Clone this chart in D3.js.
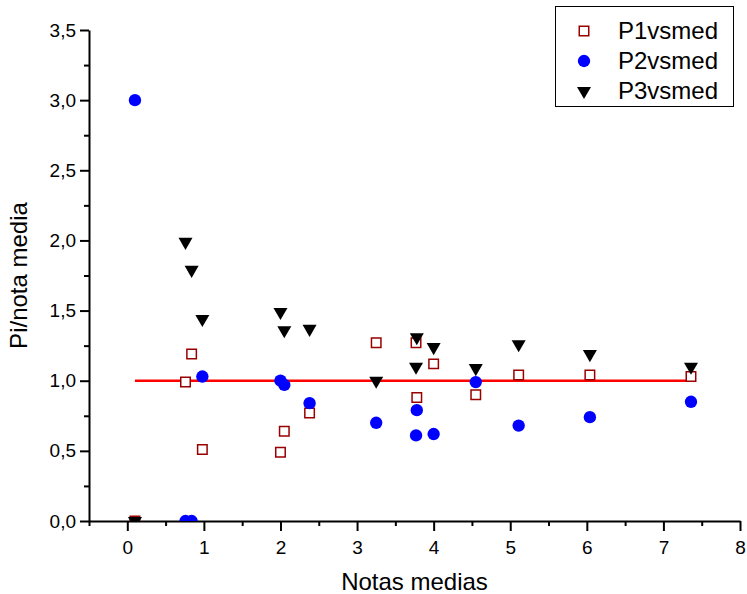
<!DOCTYPE html>
<html>
<head>
<meta charset="utf-8">
<script src="https://cdn.jsdelivr.net/npm/d3@7"></script>
<style>
  body { margin: 0; background: #fff; }
  svg { font-family: "Liberation Sans", Arial, sans-serif; }
  .axis path, .axis line { stroke: #000; stroke-width: 2; }
  .axis text { font-size: 19px; fill: #000; }
</style>
</head>
<body>
<div id="chart"></div>
<script>
// Notas medias (x) shared by the three series
const notas = [0.1, 0.76, 0.84, 0.98, 2.0, 2.05, 2.38, 3.25, 3.77, 3.78, 4.0, 4.55, 5.11, 6.04, 7.36];
const p1vsmed = [0, 0.99, 1.19, 0.51, 0.49, 0.64, 0.77, 1.27, 1.27, 0.88, 1.12, 0.90, 1.04, 1.04, 1.03];
const p2vsmed = [3.0, 0, 0, 1.03, 1.0, 0.97, 0.84, 0.70, 0.61, 0.79, 0.62, 0.99, 0.68, 0.74, 0.85];
const p3vsmed = [0, 1.99, 1.79, 1.44, 1.49, 1.36, 1.37, 1.0, 1.10, 1.31, 1.24, 1.09, 1.26, 1.19, 1.10];
const seriesNames = ['P1vsmed', 'P2vsmed', 'P3vsmed'];
const refLevel = 1;
const xTicks = [0, 1, 2, 3, 4, 5, 6, 7, 8];
const yTicks = [0, 0.5, 1, 1.5, 2, 2.5, 3, 3.5];

const width = 747;
const height = 594;

const svg = d3.select('#chart').append('svg')
  .attr('width', width)
  .attr('height', height);

const x = d3.scaleLinear().domain([-0.5, 8]).range([89, 740]);
const y = d3.scaleLinear().domain([0, 3.5]).range([521, 30]);

const es = d3.formatLocale({ decimal: ',', thousands: '.', grouping: [3], currency: ['', '€'] });
const fmt = es.format('.1f');

// clip markers at the x axis like the original
svg.append('clipPath').attr('id', 'plotClip')
  .append('rect')
  .attr('x', x.range()[0]).attr('y', 0)
  .attr('width', x.range()[1] - x.range()[0])
  .attr('height', y.range()[0]);

// minor ticks
const xMinor = d3.range(-0.5, 8, 1);
const yMinor = d3.range(0.25, 3.5, 0.5);

svg.append('g')
  .attr('class', 'axis')
  .attr('transform', `translate(0,${y.range()[0]})`)
  .call(d3.axisBottom(x).tickValues(xMinor).tickSize(5).tickFormat(''))
  .call((g) => g.select('.domain').remove());

svg.append('g')
  .attr('class', 'axis')
  .attr('transform', `translate(${x.range()[0]},0)`)
  .call(d3.axisLeft(y).tickValues(yMinor).tickSize(5).tickFormat(''))
  .call((g) => g.select('.domain').remove());

// major axes
svg.append('g')
  .attr('class', 'axis x-axis')
  .attr('transform', `translate(0,${y.range()[0]})`)
  .call(d3.axisBottom(x).tickValues(xTicks).tickSize(10).tickSizeOuter(0).tickPadding(10).tickFormat(d3.format('d')));

svg.append('g')
  .attr('class', 'axis y-axis')
  .attr('transform', `translate(${x.range()[0]},0)`)
  .call(d3.axisLeft(y).tickValues(yTicks).tickSize(9).tickSizeOuter(0).tickPadding(4).tickFormat(fmt));

// axis titles
svg.append('text')
  .attr('x', (x.range()[0] + x.range()[1]) / 2)
  .attr('y', 590)
  .attr('text-anchor', 'middle')
  .style('font-size', '24px')
  .text('Notas medias');

svg.append('text')
  .attr('transform', `translate(27,${(y.range()[0] + y.range()[1]) / 2}) rotate(-90)`)
  .attr('text-anchor', 'middle')
  .style('font-size', '24px')
  .text('Pi/nota media');

const plot = svg.append('g').attr('clip-path', 'url(#plotClip)');

// reference line at 1
const ext = d3.extent(notas);
plot.append('line')
  .attr('x1', x(ext[0])).attr('x2', x(ext[1]))
  .attr('y1', y(refLevel)).attr('y2', y(refLevel))
  .attr('stroke', '#ff0000')
  .attr('stroke-width', 2.5);

const sq = d3.symbol().type(d3.symbolSquare).size(90);
const circ = d3.symbol().type(d3.symbolCircle).size(120);
const tri = d3.symbol().type(d3.symbolTriangle).size(85);

const styles = [
  { sym: sq, fill: '#fff', stroke: '#990000', sw: 1.5, rot: 0 },
  { sym: circ, fill: '#0000ff', stroke: 'none', sw: 0, rot: 0 },
  { sym: tri, fill: '#000', stroke: 'none', sw: 0, rot: 180 },
];

[p1vsmed, p2vsmed, p3vsmed].forEach((vals, i) => {
  const s = styles[i];
  plot.selectAll(`.s${i}`)
    .data(vals.map((v, j) => [notas[j], v]))
    .join('path')
    .attr('class', `s${i}`)
    .attr('d', s.sym)
    .attr('transform', (d) => `translate(${x(d[0])},${y(d[1])}) rotate(${s.rot})`)
    .attr('fill', s.fill)
    .attr('stroke', s.stroke)
    .attr('stroke-width', s.sw);
});

// legend
const legend = svg.append('g');
legend.append('rect')
  .attr('x', 555.5).attr('y', 6.5)
  .attr('width', 178).attr('height', 100)
  .attr('fill', '#fff')
  .attr('stroke', '#000')
  .attr('stroke-width', 1);

seriesNames.forEach((name, i) => {
  const s = styles[i];
  const cy = 31 + i * 30;
  legend.append('path')
    .attr('d', s.sym)
    .attr('transform', `translate(584,${cy}) rotate(${s.rot})`)
    .attr('fill', s.fill)
    .attr('stroke', s.stroke)
    .attr('stroke-width', s.sw);
  legend.append('text')
    .attr('x', 618)
    .attr('y', cy + 8)
    .style('font-size', '24px')
    .text(name);
});
</script>
</body>
</html>
